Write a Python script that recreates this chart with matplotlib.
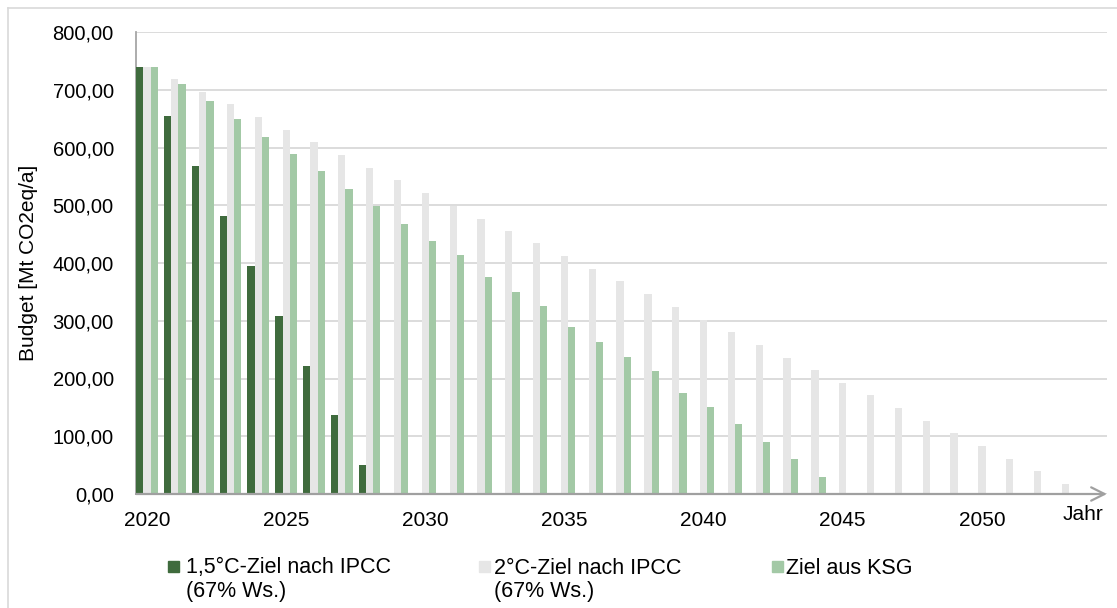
import matplotlib
matplotlib.use("Agg")
import matplotlib.pyplot as plt
import numpy as np
from matplotlib.patches import Rectangle
from matplotlib.lines import Line2D

plt.rcParams['font.family'] = ['Liberation Sans', 'DejaVu Sans']

years = list(range(2020, 2054))
ziel_15 = [740, 654, 568, 481, 395, 309, 222, 136, 50]
ziel_2 = [740, 718, 696, 675, 653, 631, 609, 587, 565, 543, 521, 499, 477, 456, 434,
          412, 390, 368, 346, 324, 302, 280, 258, 236, 214, 193, 171, 149, 127, 105,
          83, 61, 39, 17]
ziel_ksg = [740, 710, 680, 649, 619, 589, 559, 529, 499, 468, 438, 413, 376, 350, 325,
            289, 263, 238, 213, 175, 151, 121, 90, 60, 30]
labels = ["1,5°C-Ziel nach IPCC\n(67% Ws.)", "2°C-Ziel nach IPCC\n(67% Ws.)", "Ziel aus KSG"]
yticks = [0, 100, 200, 300, 400, 500, 600, 700, 800]
xtick_years = [2020, 2025, 2030, 2035, 2040, 2045, 2050]

c_dark = "#3F6B3D"
c_gray = "#E6E6E6"
c_green = "#A3C9A6"
colors = [c_dark, c_gray, c_green]

W, H = 1117, 608
fig = plt.figure(figsize=(W / 100, H / 100), dpi=100)
left, right, top, bottom = 136, 1107, 32, 494
ax = fig.add_axes([left / W, 1 - bottom / H, (right - left) / W, (bottom - top) / H])

bw = 0.26
x = np.array(years, dtype=float)
ax.bar(x[:len(ziel_15)] - bw, ziel_15, width=bw, color=c_dark, zorder=3)
ax.bar(x[:len(ziel_2)], ziel_2, width=bw, color=c_gray, zorder=3)
ax.bar(x[:len(ziel_ksg)] + bw, ziel_ksg, width=bw, color=c_green, zorder=3)

ax.set_ylim(0, 800)
ax.set_xlim(2020 - 0.395, 2020 + (right - 147) / 27.83)
ax.set_yticks(yticks)
ax.set_yticklabels([f"{v:.2f}".replace(".", ",") for v in yticks], fontsize=14.5)
ax.set_xticks(xtick_years)
ax.set_xticklabels([str(y) for y in xtick_years], fontsize=15)
ax.tick_params(axis='y', length=0, pad=16, colors='#000000')
ax.tick_params(axis='x', length=0, pad=12, colors='#000000')
ax.yaxis.grid(True, color='#D9D9D9', linewidth=1.3, zorder=0)
for s in ['top', 'right', 'bottom']:
    ax.spines[s].set_visible(False)
ax.spines['left'].set_color('#A6A6A6')
ax.spines['left'].set_linewidth(1.3)

ax.annotate("", xy=(1.0, 0), xytext=(0.0, 0), xycoords='axes fraction',
            arrowprops=dict(arrowstyle='->', color='#A0A0A0', lw=1.6,
                            mutation_scale=24, shrinkA=0, shrinkB=0), zorder=5)
fig.text(1083 / W, 1 - 515 / H, "Jahr", fontsize=15, ha='center', va='center')

fig.text(29 / W, 1 - 263 / H, "Budget [Mt CO2eq/a]", fontsize=15, rotation=90,
         ha='center', va='center')

# legend
leg_marker_x = [168, 479, 772]
leg_text_x = [186, 494, 786]
for mx, tx, col, lab in zip(leg_marker_x, leg_text_x, colors, labels):
    fig.patches.append(Rectangle((mx / W, 1 - 572 / H), 11 / W, 11 / H,
                                 transform=fig.transFigure, color=col, figure=fig))
    for i, line in enumerate(lab.split("\n")):
        fig.text(tx / W, 1 - (573.5 + 24 * i) / H, line, fontsize=15.5,
                 ha='left', va='baseline')

# chart-area border (left and top)
fig.lines.append(Line2D([7.5 / W, 7.5 / W], [0, 1 - 7.5 / H], transform=fig.transFigure,
                        color='#D9D9D9', lw=1.2, figure=fig))
fig.lines.append(Line2D([7.5 / W, 1], [1 - 7.5 / H, 1 - 7.5 / H], transform=fig.transFigure,
                        color='#D9D9D9', lw=1.2, figure=fig))

fig.savefig("out.png", dpi=100)
